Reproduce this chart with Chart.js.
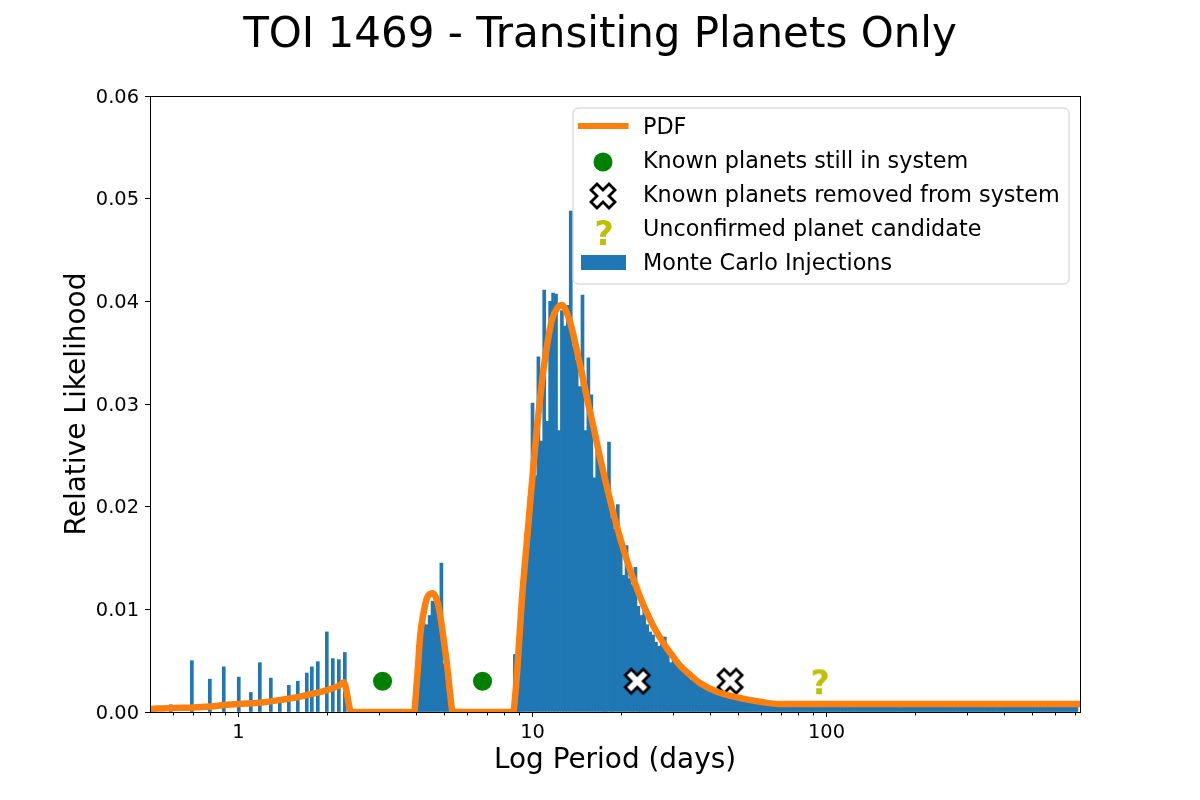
<!DOCTYPE html>
<html>
<head>
    <title>TOI 1469 - Transiting Planets Only</title>
    <style>
        body{
            margin: 0;
            background: white;
        }
        canvas{
            display: block;
        }
    </style>
</head>
<body>
<canvas id="chart" width="1200" height="800"></canvas>

<script src="https://cdnjs.cloudflare.com/ajax/libs/Chart.js/4.4.1/chart.umd.js"></script>
<script>
    const titleText = "TOI 1469 - Transiting Planets Only";
    const xAxisTitle = "Log Period (days)";
    const yAxisTitle = "Relative Likelihood";

    const xTickValues = [1, 10, 100];
    const xMinorTicks = [0.6, 0.7, 0.8, 0.9, 2, 3, 4, 5, 6, 7, 8, 9, 20, 30, 40, 50, 60, 70, 80, 90, 200, 300, 400, 500, 600, 700];
    const yTickValues = [0, 0.01, 0.02, 0.03, 0.04, 0.05, 0.06];

    // histogram bins, period in days
    const histPeriods = [
        0.588, 0.694, 0.799, 0.891, 1.002, 1.101, 1.182, 1.288, 1.382, 1.483, 1.591, 1.707, 1.776, 1.861, 1.997, 2.093, 2.194, 2.299,
        4.074, 4.169, 4.266, 4.365, 4.467, 4.571, 4.677, 4.786, 4.898, 5.012, 5.129,
        8.710, 8.913, 9.120, 9.333, 9.550, 9.772,
        10.00, 10.23, 10.47, 10.72, 10.96, 11.22, 11.48, 11.75, 12.02, 12.30,
        12.59, 12.88, 13.18, 13.49, 13.80, 14.13, 14.45, 14.79, 15.14, 15.49,
        15.85, 16.22, 16.60, 16.98, 17.38, 17.78, 18.20, 18.62, 19.05, 19.50,
        19.95, 20.42, 20.89, 21.38, 21.88, 22.39, 22.91, 23.44, 23.99, 24.55,
        25.12, 25.70, 26.30, 26.92, 27.54, 28.18, 28.84, 29.51, 30.20, 30.90,
        31.62, 32.36, 33.11, 33.88, 34.67, 35.48, 36.31, 37.15, 38.02, 38.90,
        39.81, 40.74, 41.69, 42.66, 43.65, 44.67, 45.71, 46.77, 47.86, 48.98,
        50.12, 51.29, 52.48, 53.70, 54.95, 56.23, 57.54, 58.88, 60.26, 61.66,
        63.10, 64.57, 66.07, 67.61, 69.18, 70.79, 72.44, 74.13, 75.86, 77.62,
        79.43, 81.28, 83.18, 85.11, 87.10, 89.13, 91.20, 93.33, 95.50, 97.72,
        100.0, 102.3, 104.7, 107.2, 109.6, 112.2, 114.8, 117.5, 120.2, 123.0,
        125.9, 128.8, 131.8, 134.9, 138.0, 141.3, 144.5, 147.9, 151.4, 154.9,
        158.5, 162.2, 166.0, 169.8, 173.8, 177.8, 182.0, 186.2, 190.5, 195.0,
        199.5, 204.2, 208.9, 213.8, 218.8, 223.9, 229.1, 234.4, 239.9, 245.5,
        251.2, 257.0, 263.0, 269.2, 275.4, 281.8, 288.4, 295.1, 302.0, 309.0,
        316.2, 323.6, 331.1, 338.8, 346.7, 354.8, 363.1, 371.5, 380.2, 389.0,
        398.1, 407.4, 416.9, 426.6, 436.5, 446.7, 457.1, 467.7, 478.6, 489.8,
        501.2, 512.9, 524.8, 537.0, 549.5, 562.3, 575.4, 588.8, 602.6, 616.6,
        631.0, 645.7, 660.7, 676.1, 691.8, 707.9
    ];
    const histLikelihood = [
        0.0007, 0.0050, 0.0032, 0.0044, 0.0034, 0.0019, 0.0048, 0.0033, 0.0011, 0.0026, 0.0030, 0.0038, 0.0044, 0.0049, 0.0078, 0.0052, 0.0051, 0.0058,
        0.0065, 0.0088, 0.0086, 0.0085, 0.0094, 0.0108, 0.0106, 0.0098, 0.0145, 0.0047, 0.0036,
        0.0056, 0.0068, 0.0102, 0.0140, 0.0175, 0.0210,
        0.0301, 0.0230, 0.0346, 0.0264, 0.0411, 0.0283, 0.0400, 0.0408, 0.0407, 0.0274,
        0.0391, 0.0376, 0.0396, 0.0488, 0.0356, 0.0343, 0.0317, 0.0406, 0.0274, 0.0345,
        0.0309, 0.0228, 0.0265, 0.0250, 0.0235, 0.0213, 0.0263, 0.0189, 0.0178, 0.0202,
        0.0172, 0.0133, 0.0162, 0.0130, 0.0124, 0.0141, 0.0103, 0.0094, 0.0100, 0.0085,
        0.0078, 0.0075, 0.0068, 0.0064, 0.0073, 0.0073, 0.0057, 0.0048, 0.0053, 0.0046,
        0.0044, 0.0041, 0.0038, 0.0036, 0.0031, 0.0032, 0.0030, 0.0028, 0.0026, 0.0023,
        0.0023, 0.0022, 0.0021, 0.0020, 0.0019, 0.0018, 0.0018, 0.0017, 0.0016, 0.0015,
        0.0014, 0.0014, 0.0013, 0.0013, 0.0012, 0.0012, 0.0011, 0.0011, 0.0011, 0.0010,
        0.0010, 0.0009, 0.0009, 0.0008, 0.0008, 0.0007, 0.0007, 0.0007, 0.0007, 0.0007,
        0.0007, 0.0007, 0.0007, 0.0007, 0.0007, 0.0007, 0.0007, 0.0007, 0.0007, 0.0007,
        0.0007, 0.0007, 0.0007, 0.0007, 0.0007, 0.0007, 0.0007, 0.0007, 0.0007, 0.0007,
        0.0007, 0.0007, 0.0007, 0.0007, 0.0007, 0.0007, 0.0007, 0.0007, 0.0007, 0.0007,
        0.0007, 0.0007, 0.0007, 0.0007, 0.0007, 0.0007, 0.0007, 0.0007, 0.0007, 0.0007,
        0.0007, 0.0007, 0.0007, 0.0007, 0.0007, 0.0007, 0.0007, 0.0007, 0.0007, 0.0007,
        0.0007, 0.0007, 0.0007, 0.0007, 0.0007, 0.0007, 0.0007, 0.0007, 0.0007, 0.0007,
        0.0007, 0.0007, 0.0007, 0.0007, 0.0007, 0.0007, 0.0007, 0.0007, 0.0007, 0.0007,
        0.0007, 0.0007, 0.0007, 0.0007, 0.0007, 0.0007, 0.0007, 0.0007, 0.0007, 0.0007,
        0.0007, 0.0007, 0.0007, 0.0007, 0.0007, 0.0007, 0.0007, 0.0007, 0.0007, 0.0007,
        0.0007, 0.0007, 0.0007, 0.0007, 0.0007, 0.0007
    ];

    // PDF curve
    const pdfPeriods = [
        0.5, 0.6, 0.7, 0.8, 0.9, 1.0, 1.2, 1.4, 1.6, 1.8, 2.0, 2.2, 2.28, 2.42,
        3.96, 4.01, 4.075, 4.15, 4.26, 4.37, 4.57, 4.73, 4.85, 4.98, 5.12, 5.25, 5.35,
        8.58, 8.66, 8.89, 9.20, 9.62, 10.08, 10.38, 10.62, 10.90, 11.28, 11.64, 12.11, 12.59, 13.09, 13.61, 14.16,
        14.76, 15.47, 16.22, 16.99, 17.81, 18.67, 19.57, 20.51, 21.50, 22.53, 23.61, 24.75, 25.94, 27.19, 28.50, 29.87, 31.79, 34.39, 37.19,
        42.39, 49.57, 59.5, 68.6, 728
    ];
    const pdfLikelihood = [
        0.0003, 0.0004, 0.00044, 0.00054, 0.00068, 0.00078, 0.00093, 0.00119, 0.00146, 0.0018, 0.00214, 0.00258, 0.0029, 0,
        0, 0.00166, 0.00426, 0.0075, 0.00964, 0.01107, 0.01156, 0.0109, 0.00945, 0.00718, 0.00458, 0.00166, 0,
        0, 0.0005, 0.0044, 0.0109, 0.0174, 0.0241, 0.0280, 0.0306, 0.0334, 0.0362, 0.0382, 0.0393, 0.03964, 0.03885, 0.03735, 0.0352,
        0.0328, 0.0300, 0.0274, 0.0247, 0.0222, 0.0198, 0.0176, 0.0156, 0.0138, 0.0122, 0.0107, 0.0094, 0.0082, 0.0072, 0.0063, 0.0055, 0.0045, 0.0036, 0.0028,
        0.00198, 0.00143, 0.001, 0.00078, 0.00078
    ];

    const stillPeriods = [3.09, 6.76];
    const stillLikelihood = [0.003, 0.003];
    const removedPeriods = [22.7, 47.0];
    const removedLikelihood = [0.003, 0.003];
    const candidatePeriods = [95.1];
    const candidateLikelihood = [0.003];

    const pair = (xs, ys) => xs.map((x, i) => ({x: x, y: ys[i]}));
    const fontName = "'DejaVu Sans'";

    // matplotlib style X marker
    function makeCross() {
        const c = document.createElement("canvas");
        c.width = 34;
        c.height = 34;
        const g = c.getContext("2d");
        const s = 6;
        const shape = [[-1,-2],[0,-1],[1,-2],[2,-1],[1,0],[2,1],[1,2],[0,1],[-1,2],[-2,1],[-1,0],[-2,-1]];
        g.beginPath();
        shape.forEach(p => g.lineTo(17 + p[0] * s, 17 + p[1] * s));
        g.closePath();
        g.fillStyle = "white";
        g.fill();
        g.lineWidth = 2.8;
        g.strokeStyle = "black";
        g.stroke();
        return c;
    }

    function makeQuestion() {
        const c = document.createElement("canvas");
        c.width = 34;
        c.height = 34;
        const g = c.getContext("2d");
        g.font = "bold 33px " + fontName;
        g.fillStyle = "#bfbf00";
        const m = g.measureText("?");
        g.fillText("?", 17 - m.width / 2, 17 + (m.actualBoundingBoxAscent - m.actualBoundingBoxDescent) / 2);
        return c;
    }

    const crossMarker = makeCross();
    const questionMarker = makeQuestion();

    // title, minor ticks, top/right spines and the legend box
    const extras = {
        id: "extras",
        afterDatasetsDraw(chart) {
            const ctx = chart.ctx;
            const area = chart.chartArea;
            const xScale = chart.scales.x;
            ctx.save();

            ctx.strokeStyle = "black";
            ctx.lineWidth = 1;
            ctx.strokeRect(area.left + 0.5, area.top + 0.5, area.right - area.left, area.bottom - area.top);

            xMinorTicks.forEach(v => {
                const px = Math.round(xScale.getPixelForValue(v)) + 0.5;
                ctx.beginPath();
                ctx.moveTo(px, area.bottom);
                ctx.lineTo(px, area.bottom + 3.5);
                ctx.stroke();
            });

            ctx.fillStyle = "black";
            ctx.font = "42px " + fontName;
            ctx.textAlign = "center";
            ctx.textBaseline = "alphabetic";
            ctx.fillText(titleText, 600, 47);

            ctx.beginPath();
            ctx.roundRect(573, 108, 496, 176, 5);
            ctx.fillStyle = "rgba(255,255,255,0.8)";
            ctx.fill();
            ctx.strokeStyle = "#cccccc";
            ctx.stroke();

            ctx.strokeStyle = "#ff7f0e";
            ctx.lineWidth = 6;
            ctx.beginPath();
            ctx.moveTo(578, 126);
            ctx.lineTo(628.5, 126);
            ctx.stroke();

            ctx.fillStyle = "green";
            ctx.beginPath();
            ctx.arc(603, 162, 9.5, 0, Math.PI * 2);
            ctx.fill();

            ctx.drawImage(crossMarker, 603 - 17, 196 - 17);
            ctx.drawImage(questionMarker, 604 - 17, 232 - 17);

            ctx.fillStyle = "#1f77b4";
            ctx.fillRect(581, 255, 45, 15);

            ctx.fillStyle = "black";
            ctx.font = "22.3px " + fontName;
            ctx.textAlign = "left";
            const rows = [["PDF", 134], ["Known planets still in system", 168], ["Known planets removed from system", 202],
                ["Unconfirmed planet candidate", 236], ["Monte Carlo Injections", 270]];
            rows.forEach(r => ctx.fillText(r[0], 643, r[1]));
            ctx.restore();
        }
    };

    new Chart("chart", {
        type: "bar",
        data: {
            datasets: [
                {
                    type: "line",
                    label: "PDF",
                    data: pair(pdfPeriods, pdfLikelihood),
                    borderColor: "#ff7f0e",
                    borderWidth: 6.5,
                    pointRadius: 0,
                    fill: false,
                    cubicInterpolationMode: "monotone",
                    borderJoinStyle: "round",
                    clip: 0,
                    order: 0
                },
                {
                    type: "scatter",
                    label: "Known planets still in system",
                    data: pair(stillPeriods, stillLikelihood),
                    backgroundColor: "green",
                    borderWidth: 0,
                    pointRadius: 9.5,
                    order: 1
                },
                {
                    type: "scatter",
                    label: "Known planets removed from system",
                    data: pair(removedPeriods, removedLikelihood),
                    pointStyle: crossMarker,
                    order: 1
                },
                {
                    type: "scatter",
                    label: "Unconfirmed planet candidate",
                    data: pair(candidatePeriods, candidateLikelihood),
                    pointStyle: questionMarker,
                    order: 1
                },
                {
                    type: "bar",
                    label: "Monte Carlo Injections",
                    data: pair(histPeriods, histLikelihood),
                    backgroundColor: "#1f77b4",
                    borderWidth: 0,
                    barThickness: 3,
                    order: 2
                }
            ]
        },
        options: {
            responsive: false,
            animation: false,
            layout: { padding: { top: 96, right: 120 } },
            plugins: {
                legend: { display: false },
                title: { display: false },
                tooltip: { enabled: false }
            },
            scales: {
                x: {
                    type: "logarithmic",
                    min: 0.5,
                    max: 728,
                    offset: false,
                    afterBuildTicks: scale => { scale.ticks = xTickValues.map(v => ({value: v, major: true})); },
                    afterFit: scale => { scale.height = 88; },
                    grid: { display: true, drawOnChartArea: false, offset: false, tickLength: 5, tickColor: "black" },
                    border: { display: false },
                    ticks: {
                        autoSkip: false,
                        maxRotation: 0,
                        padding: 4,
                        color: "black",
                        font: { family: fontName, size: 19.4 },
                        callback: v => String(v)
                    },
                    title: {
                        display: true,
                        text: xAxisTitle,
                        color: "black",
                        font: { family: fontName, size: 27.9 },
                        padding: { top: 0, bottom: 23 }
                    }
                },
                y: {
                    min: 0,
                    max: 0.06,
                    afterBuildTicks: scale => { scale.ticks = yTickValues.map(v => ({value: v})); },
                    afterFit: scale => { scale.width = 150; },
                    grid: { display: true, drawOnChartArea: false, tickLength: 5, tickColor: "black" },
                    border: { display: false },
                    ticks: {
                        padding: 6,
                        labelOffset: 1.5,
                        color: "black",
                        font: { family: fontName, size: 19.4 },
                        callback: v => v.toFixed(2)
                    },
                    title: {
                        display: true,
                        text: yAxisTitle,
                        color: "black",
                        font: { family: fontName, size: 28 },
                        padding: { top: 61, bottom: 0 }
                    }
                }
            }
        },
        plugins: [extras]
    });
</script>
</body>
</html>
